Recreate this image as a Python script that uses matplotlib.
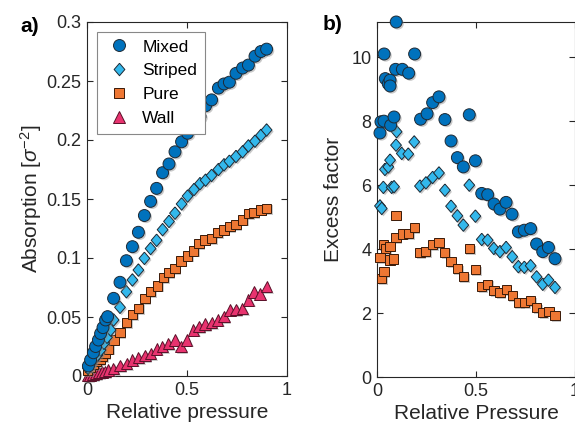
import matplotlib
matplotlib.use("Agg")
import matplotlib.pyplot as plt
from matplotlib import patheffects as pe
import numpy as np

plt.rcParams['font.family'] = ['Liberation Sans', 'DejaVu Sans']
plt.rcParams['mathtext.fontset'] = 'custom'
plt.rcParams['mathtext.rm'] = 'Liberation Sans'
plt.rcParams['mathtext.it'] = 'Liberation Sans:italic'

# ---------------- Panel a) Absorption vs relative pressure ----------------
xa_mixed = [0.007, 0.018, 0.032, 0.043, 0.057, 0.068, 0.080, 0.093, 0.103, 0.133, 0.165, 0.197,
            0.227, 0.257, 0.287, 0.318, 0.348, 0.378, 0.410, 0.440, 0.473, 0.503, 0.535, 0.565,
            0.593, 0.623, 0.657, 0.685, 0.712, 0.745, 0.778, 0.807, 0.840, 0.870, 0.898]
ya_mixed = [0.0085, 0.0136, 0.0197, 0.0250, 0.0305, 0.0360, 0.0410, 0.0475, 0.0503, 0.0658, 0.0794,
            0.0977, 0.1096, 0.1218, 0.1360, 0.1480, 0.1590, 0.1723, 0.1797, 0.1900, 0.1985, 0.2057,
            0.2130, 0.2200, 0.2290, 0.2340, 0.2440, 0.2475, 0.2490, 0.2565, 0.2610, 0.2635, 0.2710,
            0.2750, 0.2770]

xa_striped = [0.005, 0.018, 0.035, 0.052, 0.068, 0.085, 0.100, 0.118, 0.133, 0.165, 0.197, 0.227,
              0.257, 0.287, 0.318, 0.348, 0.378, 0.410, 0.440, 0.473, 0.503, 0.535, 0.565, 0.593,
              0.623, 0.657, 0.685, 0.712, 0.745, 0.778, 0.807, 0.840, 0.870, 0.898]
ya_striped = [0.0065, 0.0100, 0.0140, 0.0178, 0.0220, 0.0277, 0.0328, 0.0390, 0.0475, 0.0582, 0.0714,
              0.0814, 0.0898, 0.0997, 0.1080, 0.1150, 0.1240, 0.1310, 0.1380, 0.1458, 0.1525, 0.1580,
              0.1630, 0.1660, 0.1700, 0.1750, 0.1790, 0.1820, 0.1860, 0.1900, 0.1950, 0.1990, 0.2040,
              0.2085]

xa_pure = [0.002, 0.015, 0.032, 0.048, 0.065, 0.078, 0.090, 0.107, 0.135, 0.165, 0.197, 0.227, 0.257,
           0.290, 0.318, 0.352, 0.382, 0.410, 0.440, 0.470, 0.502, 0.532, 0.560, 0.590, 0.623, 0.653,
           0.685, 0.715, 0.745, 0.777, 0.807, 0.835, 0.870, 0.898]
ya_pure = [0.0045, 0.0073, 0.0099, 0.0120, 0.0140, 0.0164, 0.0192, 0.0229, 0.0305, 0.0370, 0.0452,
           0.0522, 0.0573, 0.0658, 0.0714, 0.0763, 0.0836, 0.0879, 0.0913, 0.0975, 0.1017, 0.1060,
           0.1124, 0.1153, 0.1167, 0.1215, 0.1237, 0.1265, 0.1285, 0.1322, 0.1378, 0.1387, 0.1407,
           0.1421]

xa_wall = [0.005, 0.015, 0.030, 0.045, 0.060, 0.075, 0.090, 0.107, 0.132, 0.165, 0.198, 0.227, 0.257,
           0.290, 0.318, 0.348, 0.377, 0.407, 0.440, 0.470, 0.498, 0.532, 0.560, 0.590, 0.623, 0.653,
           0.685, 0.715, 0.745, 0.777, 0.807, 0.835, 0.865, 0.898]
ya_wall = [0.0005, 0.0010, 0.0015, 0.0020, 0.0030, 0.0035, 0.0040, 0.0051, 0.0065, 0.0087, 0.0107,
           0.0136, 0.0158, 0.0172, 0.0192, 0.0229, 0.0248, 0.0277, 0.0305, 0.0248, 0.0305, 0.0390,
           0.0418, 0.0440, 0.0452, 0.0475, 0.0503, 0.0560, 0.0565, 0.0573, 0.0644, 0.0714, 0.0695,
           0.0757]

# ---------------- Panel b) Excess factor vs relative pressure ----------------
xb_mixed = [0.015, 0.020, 0.035, 0.036, 0.042, 0.057, 0.066, 0.066, 0.069, 0.086, 0.094, 0.097,
            0.128, 0.160, 0.190, 0.220, 0.253, 0.281, 0.313, 0.343, 0.374, 0.406, 0.436, 0.466,
            0.497, 0.529, 0.559, 0.591, 0.621, 0.652, 0.682, 0.714, 0.744, 0.776, 0.806, 0.837,
            0.866, 0.899]
yb_mixed = [7.63, 7.98, 8.00, 10.10, 9.33, 9.17, 9.28, 9.10, 7.87, 8.13, 9.62, 11.10,
            9.62, 9.50, 10.10, 8.06, 8.23, 8.58, 8.76, 8.05, 7.38, 6.86, 6.57, 8.20,
            6.76, 5.74, 5.70, 5.41, 5.25, 5.46, 5.09, 4.54, 4.59, 4.64, 4.16, 3.92,
            4.05, 3.70]

xb_striped = [0.015, 0.024, 0.032, 0.040, 0.057, 0.066, 0.074, 0.086, 0.096, 0.099, 0.125, 0.158,
              0.188, 0.217, 0.247, 0.281, 0.313, 0.343, 0.374, 0.406, 0.436, 0.466, 0.497, 0.529,
              0.559, 0.590, 0.621, 0.652, 0.683, 0.714, 0.744, 0.776, 0.806, 0.837, 0.866, 0.899]
yb_striped = [5.35, 5.27, 5.93, 6.49, 6.57, 6.78, 5.93, 5.95, 7.25, 7.67, 6.99, 6.97,
              7.35, 5.97, 6.07, 6.24, 6.38, 5.84, 5.34, 5.04, 4.75, 6.00, 5.03, 4.30,
              4.28, 4.02, 3.92, 4.05, 3.76, 3.45, 3.43, 3.48, 3.13, 2.90, 3.03, 2.80]

xb_pure = [0.015, 0.024, 0.032, 0.035, 0.045, 0.066, 0.066, 0.082, 0.096, 0.096, 0.128, 0.158,
           0.188, 0.217, 0.247, 0.281, 0.313, 0.343, 0.374, 0.406, 0.436, 0.466, 0.497, 0.529,
           0.559, 0.591, 0.621, 0.652, 0.683, 0.714, 0.744, 0.776, 0.806, 0.837, 0.869, 0.899]
yb_pure = [3.74, 3.08, 4.13, 3.29, 4.02, 4.09, 3.66, 3.69, 4.36, 5.06, 4.47, 4.48,
           4.67, 3.90, 3.92, 4.13, 4.21, 3.90, 3.60, 3.39, 3.13, 4.02, 3.36, 2.82,
           2.90, 2.70, 2.63, 2.74, 2.54, 2.33, 2.32, 2.38, 2.17, 2.02, 2.06, 1.91]

series_labels = ['Mixed', 'Striped', 'Pure', 'Wall']

# ---------------- styling ----------------
c_mixed = '#0072BD'
c_striped = '#33B8EC'
c_pure = '#EE7733'
c_wall = '#E8336F'
edge = '#1E2A35'
edge_pure = '#3A1A08'
edge_wall = '#5A1028'
txt = '#262626'

diamond = [(0, 1), (0.86, 0), (0, -1), (-0.86, 0), (0, 1)]
shadow = [pe.SimplePatchShadow(offset=(1.2, -1.2), shadow_rgbFace='#888888', alpha=0.45), pe.Normal()]

styles = {
    'Mixed': dict(marker='o', ms=8.6, mfc=c_mixed, mec=edge),
    'Striped': dict(marker=diamond, ms=9.0, mfc=c_striped, mec=edge),
    'Pure': dict(marker='s', ms=6.6, mfc=c_pure, mec=edge_pure),
    'Wall': dict(marker='^', ms=8.3, mfc=c_wall, mec=edge_wall),
}

fig = plt.figure(figsize=(5.75, 4.33), dpi=100)
ax1 = fig.add_axes([87 / 575, 57 / 433, 200 / 575, 354 / 433])
ax2 = fig.add_axes([377 / 575, 56 / 433, 198 / 575, 355 / 433])

def draw(ax, x, y, name):
    st = styles[name]
    ln, = ax.plot(x, y, linestyle='none', marker=st['marker'], markersize=st['ms'],
                  markerfacecolor=st['mfc'], markeredgecolor=st['mec'], markeredgewidth=0.7,
                  label=name, clip_on=False, zorder=3)
    ln.set_path_effects(shadow)
    return ln

draw(ax1, xa_wall, ya_wall, 'Wall')
draw(ax1, xa_pure, ya_pure, 'Pure')
draw(ax1, xa_striped, ya_striped, 'Striped')
draw(ax1, xa_mixed, ya_mixed, 'Mixed')

draw(ax2, xb_pure, yb_pure, 'Pure')
draw(ax2, xb_striped, yb_striped, 'Striped')
draw(ax2, xb_mixed, yb_mixed, 'Mixed')

# legend in order Mixed, Striped, Pure, Wall
handles, labels = ax1.get_legend_handles_labels()
order = [labels.index(n) for n in series_labels]
leg = ax1.legend([handles[i] for i in order], [labels[i] for i in order],
                 loc='upper left', bbox_to_anchor=(0.05, 0.973), fontsize=12.5,
                 frameon=True, fancybox=False, edgecolor='#888888', framealpha=1,
                 handletextpad=0.55, borderpad=0.45, labelspacing=0.5, handlelength=1.6,
                 borderaxespad=0.0)
leg.get_frame().set_linewidth(0.8)
leg.set_zorder(5)
for h in leg.legend_handles:
    h.set_path_effects([])

ax1.set_xlim(0, 1)
ax1.set_ylim(0, 0.3)
ax1.set_xticks([0, 0.5, 1])
ax1.set_xticklabels(['0', '0.5', '1'])
ax1.set_yticks([0, 0.05, 0.1, 0.15, 0.2, 0.25, 0.3])
ax1.set_yticklabels(['0', '0.05', '0.1', '0.15', '0.2', '0.25', '0.3'])
ax1.set_xlabel('Relative pressure', fontsize=15, color=txt, labelpad=3)
ax1.set_ylabel(r'Absorption [$\sigma^{-2}$]', fontsize=15, color=txt, labelpad=2)

ax2.set_xlim(0, 1)
ax2.set_ylim(0, 11.1)
ax2.set_xticks([0, 0.5, 1])
ax2.set_xticklabels(['0', '0.5', '1'])
ax2.set_yticks([0, 2, 4, 6, 8, 10])
ax2.set_xlabel('Relative Pressure', fontsize=15, color=txt, labelpad=3)
ax2.set_ylabel('Excess factor', fontsize=15, color=txt, labelpad=6)

for ax in (ax1, ax2):
    ax.tick_params(direction='in', length=4, width=0.8, top=True, right=True,
                   labelsize=13, colors=txt, pad=4)
    for s in ax.spines.values():
        s.set_linewidth(0.8)
        s.set_color(txt)

fig.text(20 / 575, 1 - 27 / 433, 'a)', fontsize=15, fontweight='bold', va='center', ha='left', color='black')
fig.text(323 / 575, 1 - 25 / 433, 'b)', fontsize=15, fontweight='bold', va='center', ha='left', color='black')

fig.savefig('out.png', dpi=100)
